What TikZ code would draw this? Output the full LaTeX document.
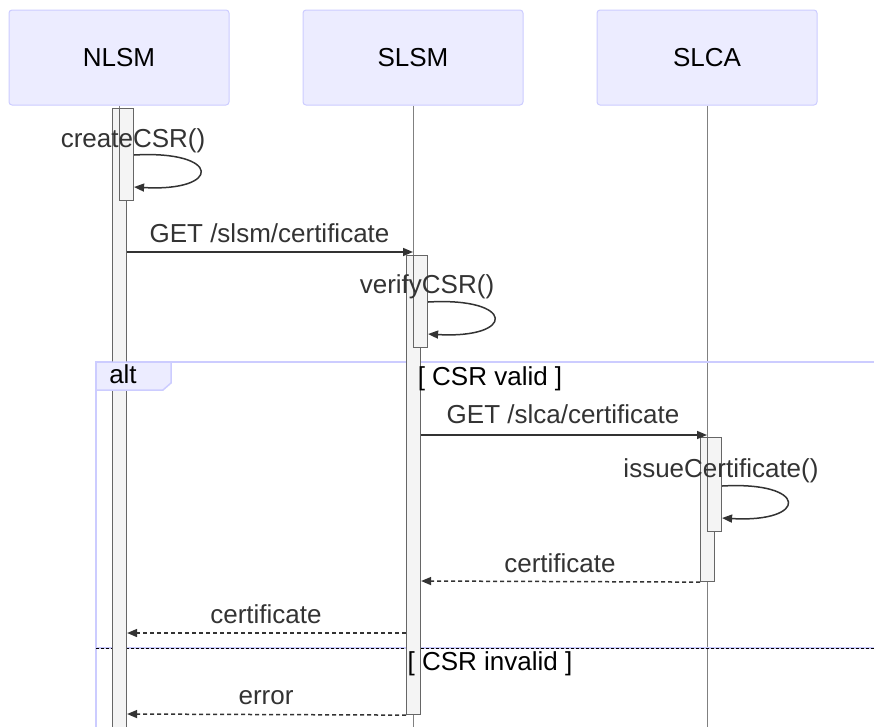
\documentclass[tikz,border=0pt]{standalone}
\usepackage{fontspec}
\setmainfont{Liberation Sans}
\usetikzlibrary{arrows.meta}
\definecolor{actfill}{HTML}{ECECFF}
\definecolor{actline}{HTML}{CCCCFF}
\definecolor{barfill}{HTML}{F4F4F4}
\definecolor{barline}{HTML}{666666}
\definecolor{msgline}{HTML}{333333}
\definecolor{lifecol}{HTML}{808080}
\tikzset{
  actor/.style={draw=actline, fill=actfill, rounded corners=3pt, minimum width=220pt, minimum height=95pt, line width=1pt, inner sep=0pt, text=black},
  lifeline/.style={draw=lifecol, line width=1pt},
  actbar/.style={draw=barline, fill=barfill, line width=1.1pt, minimum width=14pt, inner sep=0pt, anchor=north west},
  msg/.style={draw=msgline, line width=1.5pt, -{Triangle[length=10pt,width=8pt]}},
  reply/.style={msg, dash pattern=on 4pt off 3pt},
  lbl/.style={text=msgline, anchor=base, inner sep=0pt},
  frameline/.style={draw=actline, line width=2pt},
}
\begin{document}
\begin{tikzpicture}[x=1pt,y=-1pt,font=\fontsize{26}{30}\selectfont]
\useasboundingbox (0,0) rectangle (874,726);
\begin{scope}
\clip (0,0) rectangle (874,726);
% actors
\node[actor] (nlsm) at (119,57.5) {NLSM};
\node[actor] (slsm) at (413,57.5) {SLSM};
\node[actor] (slca) at (707,57.5) {SLCA};
\coordinate (nlsmEnd) at (119,740);
\coordinate (slsmEnd) at (413,740);
\coordinate (slcaEnd) at (707,740);
\draw[lifeline] (nlsm.south) -- (nlsmEnd);
\draw[lifeline] (slsm.south) -- (slsmEnd);
\draw[lifeline] (slca.south) -- (slcaEnd);
% alt frame
\coordinate (frTR) at (880,362);
\coordinate (frTL) at (96,362);
\coordinate (frBL) at (96,740);
\draw[frameline] (frTR) -- (frTL) -- (frBL);
\coordinate (sepL) at (96,648);
\coordinate (sepR) at (880,648);
\draw[frameline] (sepL) -- (sepR);
\draw[black, line width=0.8pt, dash pattern=on 3pt off 2pt] (sepL) -- (sepR);
% activation bars
\node[actbar, minimum height=640pt] (nlsmA) at (112,108) {};
\node[actbar, minimum height=92pt] (nlsmB) at (119,108) {};
\node[actbar, minimum height=459pt] (slsmA) at (406,255) {};
\node[actbar, minimum height=92pt] (slsmB) at (413,255) {};
\node[actbar, minimum height=144pt] (slcaA) at (700,437) {};
\node[actbar, minimum height=94pt] (slcaB) at (707,437) {};
% alt label
\draw[draw=actline, fill=actfill, line width=1.5pt] (96,362) -- (171,362) -- (171,383) -- (163,390) -- (96,390) -- cycle;
\node[anchor=base, inner sep=0pt, text=black] (altlbl) at (123,383) {alt};
\node[anchor=base, inner sep=0pt, text=black] (valid) at (490,385) {[ CSR valid ]};
\node[anchor=base, inner sep=0pt, text=black] (invalid) at (490,670) {[ CSR invalid ]};
% self call createCSR
\node[lbl] (t1) at (133,147) {createCSR()};
\draw[msg] (nlsmB.east |- 0,155) .. controls (222,150) and (222,192) .. (nlsmB.east |- 0,187);
% GET /slsm/certificate
\node[lbl] (t2) at (269.5,242) {GET /slsm/certificate};
\draw[msg] (nlsmA.east |- 0,252) -- (slsm.south |- 0,252);
% verifyCSR
\node[lbl] (t3) at (427,293) {verifyCSR()};
\draw[msg] (slsmB.east |- 0,302) .. controls (516,297) and (516,339) .. (slsmB.east |- 0,334);
% GET /slca/certificate
\node[lbl] (t4) at (563,423) {GET /slca/certificate};
\draw[msg] (slsmA.east |- 0,435) -- (slca.south |- 0,435);
% issueCertificate
\node[lbl] (t5) at (721,477) {issueCertificate()};
\draw[msg] (slcaB.east |- 0,486) .. controls (809,481) and (809,523) .. (slcaB.east |- 0,518);
% certificate reply
\node[lbl] (t6) at (560,572) {certificate};
\draw[reply] (slcaA.south west) -- (slsmA.east |- 0,581);
% certificate to NLSM
\node[lbl] (t7) at (266,623) {certificate};
\draw[reply] (slsmA.west |- 0,633) -- (nlsmA.east |- 0,633);
% error
\node[lbl] (t8) at (266,704) {error};
\draw[reply] (slsmA.south west) -- (nlsmA.east |- 0,714);
\end{scope}
\end{tikzpicture}
\end{document}
